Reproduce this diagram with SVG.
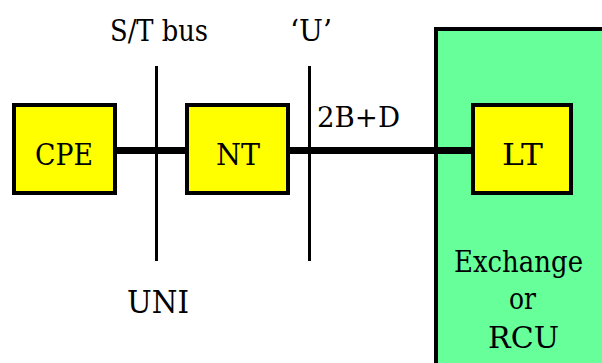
<svg xmlns="http://www.w3.org/2000/svg" width="602" height="363" viewBox="0 0 602 363">
<style>
.box{fill:#ffff00;stroke:#000;stroke-width:4}
text{font-family:'DejaVu Serif','Liberation Serif',serif;fill:#000}
.c{text-anchor:middle}
.bus{stroke:#000;stroke-width:7;fill:none}
.ref{stroke:#000;stroke-width:3;fill:none}
</style>
<rect width="602" height="363" fill="#fff"/>
<g id="exchange">
<rect x="436" y="29" width="200" height="400" fill="#66ff99" stroke="#000" stroke-width="4"/>
<text class="c" x="518.5" y="272" font-size="30" textLength="129" lengthAdjust="spacingAndGlyphs">Exchange</text>
<text class="c" x="522.5" y="309" font-size="30" textLength="27" lengthAdjust="spacingAndGlyphs">or</text>
<text class="c" x="523.5" y="348" font-size="30" textLength="71" lengthAdjust="spacingAndGlyphs">RCU</text>
</g>
<g id="connectors">
<line class="bus" x1="115" y1="150.5" x2="187" y2="150.5"/>
<line class="bus" x1="288" y1="150.5" x2="473" y2="150.5"/>
<line class="ref" x1="156.5" y1="66" x2="156.5" y2="261"/>
<line class="ref" x1="309.5" y1="66" x2="309.5" y2="261"/>
</g>
<g id="cpe">
<rect class="box" x="14" y="105" width="101" height="88"/>
<text class="c" x="64" y="165" font-size="30" textLength="58" lengthAdjust="spacingAndGlyphs">CPE</text>
</g>
<g id="nt">
<rect class="box" x="187" y="105" width="101" height="88"/>
<text class="c" x="238" y="165" font-size="30" textLength="44" lengthAdjust="spacingAndGlyphs">NT</text>
</g>
<g id="lt">
<rect class="box" x="473" y="105" width="98" height="88"/>
<text class="c" x="522.5" y="165" font-size="30" textLength="41" lengthAdjust="spacingAndGlyphs">LT</text>
</g>
<g id="labels">
<text x="110" y="41" font-size="29" textLength="98" lengthAdjust="spacingAndGlyphs">S/T bus</text>
<text x="290" y="41" font-size="29" textLength="42" lengthAdjust="spacingAndGlyphs">‘U’</text>
<text x="317" y="127" font-size="28" textLength="83" lengthAdjust="spacingAndGlyphs">2B+D</text>
<text x="127" y="313" font-size="31" textLength="62" lengthAdjust="spacingAndGlyphs">UNI</text>
</g>
</svg>
